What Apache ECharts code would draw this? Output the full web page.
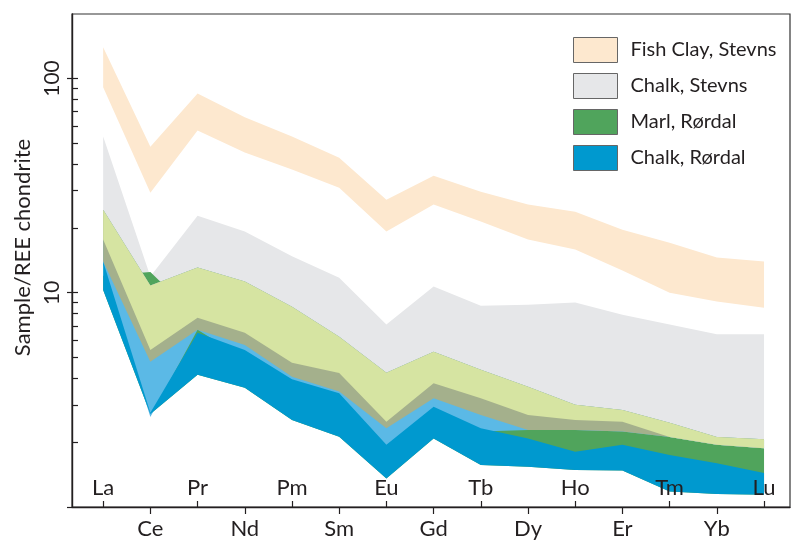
<!DOCTYPE html>
<html>
<head>
<meta charset="utf-8">
<script src="https://cdn.jsdelivr.net/npm/echarts@6/dist/echarts.min.js"></script>
<style>
html,body{margin:0;padding:0;background:#fff;}
#chart{width:802px;height:544px;}
</style>
</head>
<body>
<div id="chart"></div>
<script>
// ---- categories & tick labels ----
const elements = ['La','Ce','Pr','Nd','Pm','Sm','Eu','Gd','Tb','Dy','Ho','Er','Tm','Yb','Lu'];
const yTickLabels = [10, 100];
const yMajorTicks = [1, 10, 100];

// ---- band boundaries (Sample/REE chondrite) ----
const fishClayTop      = [140, 48, 85, 66, 53.6, 42.7, 27.2, 35.2, 29.6, 25.8, 23.9, 19.7, 17.1, 14.6, 14.0];
const fishClayBottom   = [91, 29.3, 57.2, 45.1, 37.6, 30.9, 19.3, 25.8, 21.5, 17.7, 15.9, 12.7, 10.0, 9.1, 8.5];
const chalkStevnsTop   = [53.6, 11.9, 22.9, 19.3, 14.8, 11.75, 7.1, 10.7, 8.7, 8.8, 9.0, 7.9, 7.1, 6.4, 6.4];
const overlapTop       = [24.4, 10.8, 13.1, 11.3, 8.6, 6.23, 4.23, 5.3, 4.37, 3.64, 3.0, 2.84, 2.47, 2.12, 2.07];
const marlTop          = [12.0, 12.5, 7.64, 6.5, 4.71, 4.22, 2.50, 3.78, 3.22, 2.69, 2.55, 2.50, 2.12, 1.95, 1.88];
const overlapBottom    = [17.7, 5.41, 7.64, 6.5, 4.71, 4.22, 2.50, 3.78, 3.22, 2.69, 2.55, 2.50, 2.12, 1.95, 1.88];
const oliveBottom      = [14.0, 4.76, 6.71, 5.71, 4.05, 3.46, 2.33, 3.22, 2.69, 2.29, 2.29, 2.25, 2.12, 1.95, 1.88];
const lightBlueBottom  = [13.5, 2.63, 6.71, 4.9, 3.7, 3.2, 1.85, 2.8, 2.25, 2.29, 2.29, 2.25, 2.12, 1.95, 1.88];
const chalkRordalTop   = [14.0, 2.75, 6.5, 5.41, 3.95, 3.40, 1.95, 2.94, 2.33, 2.09, 1.81, 1.95, 1.75, 1.60, 1.44];
const chalkRordalBottom= [10.3, 2.72, 4.14, 3.6, 2.55, 2.13, 1.36, 2.09, 1.57, 1.54, 1.49, 1.48, 1.18, 1.15, 1.14];

const C = {
  peach: '#fde8cf', gray: '#e6e7e9', green: '#50a45c', lightGreen: '#d6e4a2',
  olive: '#a4b08c', lightBlue: '#5bb9e6', blue: '#0099cf'
};
const FONT = 'Lato';
const INK = '#231f20';

const idx = elements.map((_, i) => i);
const evenIdx = idx.filter(i => i % 2 === 0);
const oddIdx = idx.filter(i => i % 2 === 1);
const yMinorTicks = [];
[1, 10].forEach(d => { for (let k = 2; k <= 10; k++) yMinorTicks.push(k * d); });

function band(name, lo, hi, color) {
  return {
    type: 'custom',
    name: name,
    coordinateSystem: 'cartesian2d',
    silent: true,
    z: 2,
    data: elements.map((e, i) => [i, lo[i], hi[i]]),
    encode: { x: 0, y: [1, 2] },
    itemStyle: { color: color },
    renderItem: function (params, api) {
      if (params.dataIndex !== 0) return null;
      const n = params.dataInsideLength;
      const top = [], bot = [];
      for (let j = 0; j < n; j++) {
        const x = api.value(0, j);
        top.push(api.coord([x, api.value(2, j)]));
        bot.push(api.coord([x, api.value(1, j)]));
      }
      return { type: 'polygon', shape: { points: top.concat(bot.reverse()) }, style: { fill: color } };
    }
  };
}

const xBase = { type: 'value', min: -0.66, max: 14.55, position: 'bottom', splitLine: { show: false }, z: 10 };
const yBase = { type: 'log', logBase: 10, min: 1, max: 200, position: 'left', splitLine: { show: false }, minorTick: { show: false }, z: 10 };

const option = {
  animation: false,
  textStyle: { fontFamily: FONT },
  grid: { left: 72, right: 12, top: 14, bottom: 37, show: true, borderColor: '#333', borderWidth: 1.2, backgroundColor: 'transparent' },
  legend: {
    orient: 'vertical', left: 573, top: 37, padding: 0,
    itemWidth: 44, itemHeight: 25, itemGap: 10, icon: 'rect', selectedMode: false,
    textStyle: { fontSize: 20, color: INK, fontFamily: FONT, padding: [0, 0, 0, 8] },
    data: [
      { name: 'Fish Clay, Stevns', itemStyle: { color: C.peach, borderColor: '#666', borderWidth: 1 } },
      { name: 'Chalk, Stevns', itemStyle: { color: C.gray, borderColor: '#666', borderWidth: 1 } },
      { name: 'Marl, Rørdal', itemStyle: { color: C.green, borderColor: '#666', borderWidth: 1 } },
      { name: 'Chalk, Rørdal', itemStyle: { color: C.blue, borderColor: '#666', borderWidth: 1 } }
    ]
  },
  xAxis: [
    Object.assign({}, xBase, {
      axisLine: { show: true, onZero: false, lineStyle: { color: INK, width: 1.4 } },
      axisTick: { show: true, inside: true, length: 6, customValues: evenIdx, lineStyle: { color: INK, width: 1.2 } },
      axisLabel: { show: true, inside: true, customValues: evenIdx, formatter: v => elements[Math.round(v)],
                   margin: 8, fontSize: 22, color: INK, fontFamily: FONT }
    }),
    Object.assign({}, xBase, {
      axisLine: { show: false, onZero: false },
      axisTick: { show: true, inside: false, length: 7, customValues: oddIdx, lineStyle: { color: INK, width: 1.2 } },
      axisLabel: { show: true, inside: false, customValues: oddIdx, formatter: v => elements[Math.round(v)],
                   margin: 11, fontSize: 22, color: INK, fontFamily: FONT }
    })
  ],
  yAxis: [
    Object.assign({}, yBase, {
      axisLine: { show: true, onZero: false, lineStyle: { color: INK, width: 1.4 } },
      axisTick: { show: true, inside: true, length: 6, customValues: yMinorTicks, lineStyle: { color: INK, width: 1.2 } },
      axisLabel: { show: true, customValues: yTickLabels, rotate: 90, margin: 9, fontSize: 21, color: INK, fontFamily: FONT },
      name: 'Sample/REE chondrite', nameLocation: 'middle', nameGap: 33, nameRotate: 90,
      nameTextStyle: { fontSize: 22, color: INK, fontFamily: FONT, padding: [0, 0, 0, 26] }
    }),
    Object.assign({}, yBase, {
      axisLine: { show: false, onZero: false },
      axisTick: { show: true, inside: false, length: 5, customValues: yMajorTicks, lineStyle: { color: INK, width: 1.2 } },
      axisLabel: { show: false }
    })
  ],
  series: [
    band('Fish Clay, Stevns', fishClayBottom, fishClayTop, C.peach),
    band('Chalk, Stevns', overlapBottom, chalkStevnsTop, C.gray),
    band('Marl, Rørdal', chalkRordalBottom, marlTop, C.green),
    band('Chalk, Rørdal (light)', lightBlueBottom, overlapTop, C.lightBlue),
    band('Marl/Chalk overlap (olive)', oliveBottom, overlapTop, C.olive),
    band('Marl/Chalk overlap', overlapBottom, overlapTop, C.lightGreen),
    band('Chalk, Rørdal', chalkRordalBottom, chalkRordalTop, C.blue)
  ]
};

const chart = echarts.init(document.getElementById('chart'), null, { renderer: 'canvas' });
chart.setOption(option);
</script>
</body>
</html>
